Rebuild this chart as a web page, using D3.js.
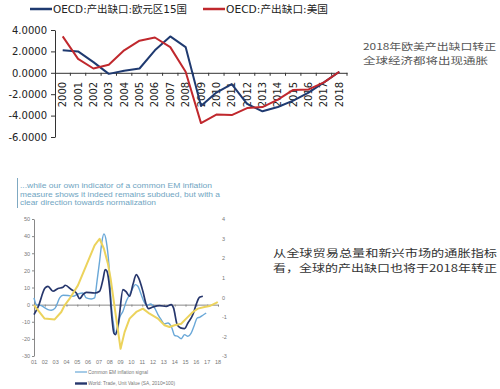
<!DOCTYPE html>
<html>
<head>
<meta charset="utf-8">
<style>
body { margin: 0; background: #fff; }
svg { display: block; }
.top-axis text { font-family: "DejaVu Sans", sans-serif; font-size: 10px; fill: #222; }
.top-axis path, .top-axis line { stroke: #333; }
.em-axis text { font-family: "Liberation Sans", sans-serif; font-size: 5.5px; fill: #777; }
.em-axis path, .em-axis line { stroke: #888; }
.note { font-family: "Noto Sans CJK SC", sans-serif; fill: #555; }
</style>
<script src="https://cdn.jsdelivr.net/npm/d3@7"></script>
</head>
<body>
<svg width="500" height="389"></svg>
<script>

// ---- top chart: OECD output gap ----
var years = ["2000","2001","2002","2003","2004","2005","2006","2007","2008","2009",
             "2010","2011","2012","2013","2014","2015","2016","2017","2018"];
var euroGap = [2.1, 2.0, 1.0, -0.1, 0.2, 0.4, 2.1, 3.4, 2.4, -3.1,
               -1.85, -1.05, -2.9, -3.6, -3.2, -2.6, -1.85, -0.9, 0.1];
var usGap = [3.4, 1.3, 0.4, 0.75, 2.1, 3.0, 3.3, 2.4, 0.1, -4.7,
             -3.9, -3.95, -3.3, -3.2, -2.5, -1.6, -1.55, -0.9, 0.1];
var gapTicks = [4, 2, 0, -2, -4, -6];
var gapSeries = [
  {name: "OECD:产出缺口:欧元区15国", values: euroGap, color: "#1f3a70"},
  {name: "OECD:产出缺口:美国", values: usGap, color: "#c0282d"}
];

// ---- bottom chart: EM inflation (year, value) ----
var emYearLabels = ["01","02","03","04","05","06","07","08","09","10",
                    "11","12","13","14","15","16","17","18"];
var leftTicks = [50, 40, 30, 20, 10, 0, -10, -20, -30];
var rightTicks = [4, 3, 2, 1, 0, -1, -2, -3];
var emSignal = [[2001.00,3.9],[2001.22,0],[2001.68,-0.6],[2002.29,-2.9],[2002.60,-3.3],[2002.97,-1.9],
  [2003.37,3.9],[2003.68,5.5],[2004.14,5.3],[2004.60,4.9],[2005.06,6.2],[2005.52,6.8],[2005.83,3.9],
  [2006.29,3.3],[2006.60,3.9],[2006.82,13.6],[2007.06,25.3],[2007.28,37],[2007.46,41.3],[2007.68,37],
  [2007.92,23.4],[2008.14,0],[2008.35,-11.7],[2008.51,-16.6],[2008.69,-15.6],[2008.91,-7.8],
  [2009.22,-3.9],[2009.52,1.9],[2009.83,5.8],[2010.14,9.7],[2010.35,11.7],[2010.60,10.7],[2010.91,5.8],
  [2011.15,1.9],[2011.46,-0.4],[2011.77,0.4],[2012.14,-1.9],[2012.45,-5.8],[2012.75,-8.8],
  [2013.06,-11.3],[2013.37,-10.7],[2013.74,-13.6],[2013.98,-17.9],[2014.29,-18.5],[2014.60,-19.9],
  [2014.91,-17.5],[2015.22,-18.5],[2015.52,-16.6],[2015.83,-11.7],[2016.08,-7.8],[2016.29,-7.4],
  [2016.60,-6.2],[2016.91,-4.9]];
var tradeUnitValue = [[2001.00,-5.8],[2001.40,-1],[2002.00,9.5],[2002.29,10.7],[2002.75,7.8],[2003.22,9.4],
  [2003.68,10.1],[2003.89,11.3],[2004.45,8.8],[2004.91,6.8],[2005.22,3.5],[2005.52,5.8],[2005.83,7.2],
  [2006.60,6.8],[2007.06,7.8],[2007.37,14.6],[2007.58,20.5],[2007.74,19.5],[2007.98,9.7],[2008.20,-7.8],
  [2008.38,-16.6],[2008.54,-17.5],[2008.82,-9.7],[2009.22,8.8],[2009.52,7.4],[2009.83,4.9],[2010.14,11.7],
  [2010.45,17.5],[2010.66,15.6],[2011.06,7.8],[2011.37,0],[2011.58,-2.3],[2011.98,-1.4],[2012.60,-0.6],
  [2013.22,-1.0],[2013.68,0],[2013.89,-1.9],[2014.23,-11.7],[2014.54,-13.6],[2014.91,-14],[2015.22,-10.7],
  [2015.68,-5.8],[2015.98,0],[2016.29,4.3],[2016.60,4.9]];
var outputGapRight = [[2001.00,-0.4],[2001.98,-1.09],[2002.91,-1.13],[2003.52,-0.75],[2003.83,-0.41],
  [2004.29,-0.07],[2005.06,0.61],[2005.83,1.63],[2006.60,2.65],[2007.06,2.99],[2007.46,2.48],
  [2007.83,1.72],[2008.08,0.95],[2008.51,-0.75],[2009.00,-2.63],[2009.37,-1.78],[2009.83,-1.09],
  [2010.45,-0.75],[2011.06,-0.58],[2011.68,-0.84],[2012.45,-1.09],[2013.06,-1.43],[2013.52,-1.52],
  [2013.98,-1.43],[2014.60,-1.35],[2015.06,-1.09],[2015.68,-0.75],[2016.14,-0.58],[2016.75,-0.5],
  [2017.22,-0.45],[2017.83,-0.29],[2017.98,-0.24]];

var svg = d3.select("svg");

// ================= top chart =================
var x = d3.scaleBand().domain(years).range([55, 347]);
var y = d3.scaleLinear().domain([-6, 4]).range([137, 30]);

var topG = svg.append("g");

topG.append("g")
    .attr("class", "top-axis")
    .attr("transform", "translate(55,0)")
    .call(d3.axisLeft(y).tickValues(gapTicks).tickSize(4).tickSizeOuter(0).tickPadding(4)
      .tickFormat(function(d) { return d.toFixed(4); }));

var xAxis = topG.append("g")
    .attr("class", "top-axis")
    .attr("transform", "translate(0," + y(0) + ")")
    .call(d3.axisBottom(x).tickSize(0).tickSizeOuter(0));

xAxis.selectAll("text")
    .attr("transform", "rotate(-90)")
    .attr("x", -9)
    .attr("y", 0)
    .attr("dy", "0.35em")
    .style("text-anchor", "end");

// excel style ticks between categories
xAxis.selectAll(".band-tick")
    .data(years)
  .enter().append("line")
    .attr("class", "band-tick")
    .attr("x1", function(d, i) { return x.range()[0] + x.step() * (i + 1); })
    .attr("x2", function(d, i) { return x.range()[0] + x.step() * (i + 1); })
    .attr("y1", 0)
    .attr("y2", 3)
    .attr("stroke", "#333");

var gapLine = d3.line()
    .x(function(d, i) { return x(years[i]) + x.bandwidth() / 2; })
    .y(function(d) { return y(d); });

topG.selectAll(".gap")
    .data(gapSeries)
  .enter().append("path")
    .attr("class", "gap")
    .attr("fill", "none")
    .attr("stroke", function(d) { return d.color; })
    .attr("stroke-width", 2)
    .attr("stroke-linejoin", "round")
    .attr("d", function(d) { return gapLine(d.values); });

// legend
var legendX = [30, 203], legendW = [134, 102];
var leg = topG.selectAll(".leg")
    .data(gapSeries)
  .enter().append("g")
    .attr("transform", function(d, i) { return "translate(" + legendX[i] + ",9)"; });
leg.append("line")
    .attr("x1", 0).attr("x2", 22)
    .attr("stroke", function(d) { return d.color; })
    .attr("stroke-width", 2.5);
leg.append("text")
    .attr("x", 23)
    .attr("dy", "0.35em")
    .attr("textLength", function(d, i) { return legendW[i]; })
    .attr("lengthAdjust", "spacingAndGlyphs")
    .style("font-family", "'DejaVu Sans', 'Noto Sans CJK SC', sans-serif")
    .style("font-size", "10.5px")
    .style("fill", "#222")
    .text(function(d) { return d.name; });

// notes on right
var note1 = ["2018年欧美产出缺口转正", "全球经济都将出现通胀"];
svg.selectAll(".note1")
    .data(note1)
  .enter().append("text")
    .attr("class", "note")
    .attr("x", 363)
    .attr("y", function(d, i) { return 50 + i * 13.5; })
    .attr("textLength", function(d, i) { return i ? 125 : 133; })
    .attr("lengthAdjust", "spacingAndGlyphs")
    .style("font-size", "9px")
    .text(function(d) { return d; });

var note2 = ["从全球贸易总量和新兴市场的通胀指标", "看，全球的产出缺口也将于2018年转正"];
svg.selectAll(".note2")
    .data(note2)
  .enter().append("text")
    .attr("class", "note")
    .attr("x", 273)
    .attr("y", function(d, i) { return 257 + i * 15; })
    .attr("textLength", 224)
    .attr("lengthAdjust", "spacingAndGlyphs")
    .style("font-size", "10px")
    .style("fill", "#333")
    .text(function(d) { return d; });

// ================= bottom chart =================
var titleLines = ["...while our own indicator of a common EM inflation",
                  "measure shows it indeed remains subdued, but with a",
                  "clear direction towards normalization"];
var titleW = [192, 200, 136];

svg.append("line")
    .attr("x1", 17.5).attr("x2", 17.5)
    .attr("y1", 178).attr("y2", 208)
    .attr("stroke", "#7fa9c2").attr("stroke-width", 1);

svg.selectAll(".title")
    .data(titleLines)
  .enter().append("text")
    .attr("x", 20)
    .attr("y", function(d, i) { return 188 + i * 8.7; })
    .attr("textLength", function(d, i) { return titleW[i]; })
    .attr("lengthAdjust", "spacingAndGlyphs")
    .style("font-family", "'Liberation Sans', sans-serif")
    .style("font-size", "8px")
    .style("fill", "#6fa5c2")
    .text(function(d) { return d; });

var xt = d3.scaleLinear().domain([2001, 2018]).range([34, 218]);
var yL = d3.scaleLinear().domain([-30, 50]).range([356, 219]);
var yR = d3.scaleLinear().domain([-3, 4]).range([356, 219]);

svg.append("g")
    .attr("class", "em-axis")
    .attr("transform", "translate(34,0)")
    .call(d3.axisLeft(yL).tickValues(leftTicks).tickSize(2).tickSizeOuter(0).tickPadding(2)
      .tickFormat(function(d) { return String(d); }));

var rAxis = svg.append("g")
    .attr("class", "em-axis")
    .attr("transform", "translate(218,0)")
    .call(d3.axisRight(yR).tickValues(rightTicks).tickSize(0).tickPadding(4)
      .tickFormat(function(d) { return String(d); }));
rAxis.select(".domain").remove();

// zero line with year ticks
var zero = svg.append("g")
    .attr("class", "em-axis")
    .attr("transform", "translate(0," + yL(0) + ")")
    .call(d3.axisBottom(xt).tickValues(d3.range(2001, 2019)).tickSize(2).tickSizeOuter(0)
      .tickFormat(""));
zero.select(".domain").attr("stroke", "#aaa");

svg.append("g")
    .attr("class", "em-axis")
    .selectAll("text")
    .data(emYearLabels)
  .enter().append("text")
    .attr("x", function(d, i) { return xt(2001 + i); })
    .attr("y", 364)
    .style("text-anchor", "middle")
    .text(function(d) { return d; });

var lineL = d3.line()
    .x(function(d) { return xt(d[0]); })
    .y(function(d) { return yL(d[1]); })
    .curve(d3.curveMonotoneX);
var lineR = d3.line()
    .x(function(d) { return xt(d[0]); })
    .y(function(d) { return yR(d[1]); });

svg.append("path")
    .attr("fill", "none").attr("stroke", "#6aa8d8").attr("stroke-width", 1.4)
    .attr("d", lineL(emSignal));
svg.append("path")
    .attr("fill", "none").attr("stroke", "#26366c").attr("stroke-width", 1.7)
    .attr("d", lineL(tradeUnitValue));
svg.append("path")
    .attr("fill", "none").attr("stroke", "#ecd35c").attr("stroke-width", 2)
    .attr("stroke-linejoin", "round")
    .attr("d", lineR(outputGapRight));

// bottom legend
var emLegend = [
  {name: "Common EM inflation signal", color: "#6aa8d8", w: 1.2, tw: 60},
  {name: "World: Trade, Unit Value (SA, 2010=100)", color: "#26366c", w: 2.4, tw: 87}
];
var el = svg.selectAll(".emleg")
    .data(emLegend)
  .enter().append("g")
    .attr("transform", function(d, i) { return "translate(75," + (372 + i * 11.5) + ")"; });
el.append("line")
    .attr("x1", 0).attr("x2", 12)
    .attr("stroke", function(d) { return d.color; })
    .attr("stroke-width", function(d) { return d.w; });
el.append("text")
    .attr("x", 13)
    .attr("dy", "0.35em")
    .attr("textLength", function(d) { return d.tw; })
    .attr("lengthAdjust", "spacingAndGlyphs")
    .style("font-family", "'Liberation Sans', sans-serif")
    .style("font-size", "5.5px")
    .style("fill", "#777")
    .text(function(d) { return d.name; });

</script>
</body>
</html>
